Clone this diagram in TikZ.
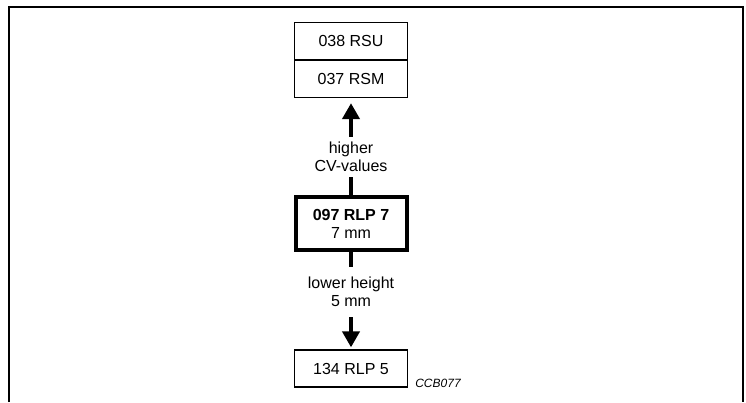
\documentclass[tikz,border=0pt]{standalone}
\usepackage{fontspec}
\setmainfont{Liberation Sans}
\usetikzlibrary{arrows.meta}
\begin{document}
\begin{tikzpicture}[x=1pt,y=-1pt,
  every node/.style={font=\fontsize{16}{18}\selectfont, align=center, inner sep=0pt},
  box/.style={draw, line width=1.3pt, minimum width=113pt, minimum height=37pt},
  mainbox/.style={draw, line width=4pt, minimum width=111pt, minimum height=53pt},
  conn/.style={line width=4pt},
  arr/.style={conn, -{Triangle[width=17pt,length=16pt]}},
  lab/.style={fill=white}]
\useasboundingbox (0,0) rectangle (746,402);
\draw[line width=2.4pt] (9,402) -- (9,7) -- (743,7) -- (743,402);
\node[box] (rsu) at (351,41) {038 RSU};
\node[box] (rsm) at (351,79) {037 RSM};
\node[mainbox] (rlp7) at (351,223.5) {\textbf{097 RLP 7}\\7 mm};
\node[box] (rlp5) at (351,368.5) {134 RLP 5};
\node[lab, minimum height=40pt] (l1) at (351,157) {higher\\CV-values};
\node[lab, minimum height=50pt] (l2) at (351,292) {lower height\\5 mm};
\node[font=\fontsize{12}{14}\selectfont\itshape] (ccb) at (438,383) {CCB077};
\draw[conn] (rlp7.north) -- (l1.south);
\draw[arr, shorten >=5pt] (l1.north) -- (rsm.south);
\draw[conn] (rlp7.south) -- (l2.north);
\draw[arr, shorten >=2pt] (l2.south) -- (rlp5.north);
\end{tikzpicture}
\end{document}
